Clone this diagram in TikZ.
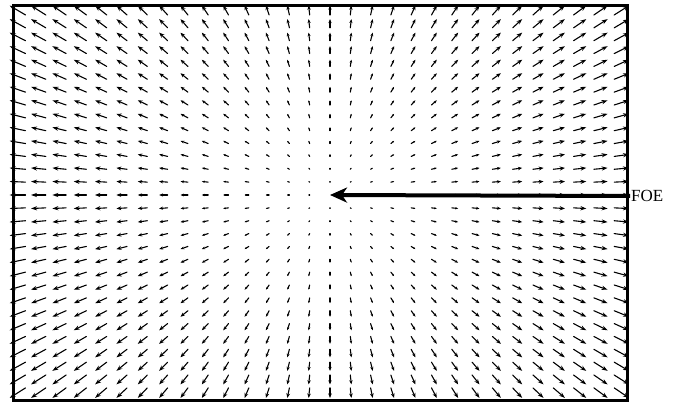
\documentclass[tikz,border=0pt]{standalone}
\usepackage{fontspec}
\setmainfont{Liberation Serif}
\usepackage{tikz}
\usetikzlibrary{arrows.meta}

\begin{document}
\begin{tikzpicture}[x=1pt, y=-1pt, >=Stealth,
    flow/.style={line width=1.1pt, line cap=round},
    frame/.style={draw, line width=3pt}]
    \useasboundingbox (0,0) rectangle (680,403);
    % Frame
    \draw[frame] (13.5,6) rectangle (627,400);
    % Flow field
    \foreach \i in {-15,...,14}{
      \foreach \j in {-14,...,15}{
        \pgfmathsetmacro{\px}{330+20.3*\i}
        \pgfmathsetmacro{\py}{195+12.86*\j}
        \pgfmathsetmacro{\dx}{0.052*20.3*\i}
        \pgfmathsetmacro{\dy}{0.052*12.86*\j}
        \pgfmathsetmacro{\len}{veclen(\dx,\dy)}
        \pgfmathsetmacro{\hl}{min(0.45*\len,6)}
        \pgfmathsetmacro{\hw}{min(0.36*\len,4.2)}
        \ifdim\len pt>0.3pt
          \draw[flow, -{Stealth[length=\hl pt, width=\hw pt]}] (\px,\py) -- ++(\dx,\dy);
        \fi
      }
    }
    % FOE
    \coordinate (center) at (330,195);
    \node (foe) [anchor=west, inner sep=1pt, font=\fontsize{17}{20}\selectfont] at (630,196) {FOE};
    \draw[line width=4pt, -{Stealth[length=17pt, width=15pt, inset=5pt]}] (foe.west) -- (center);
\end{tikzpicture}
\end{document}
